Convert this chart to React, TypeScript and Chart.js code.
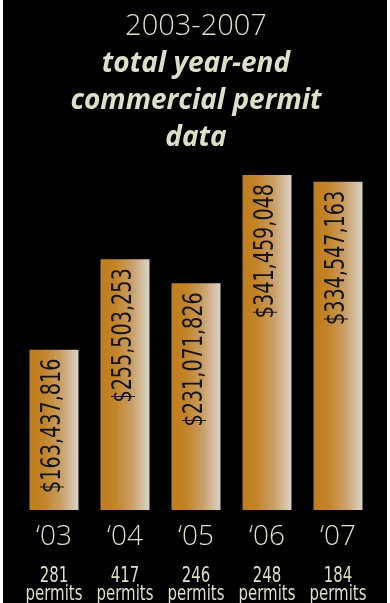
import React, { useEffect, useRef } from "react";
import { Chart, registerables } from "chart.js";

Chart.register(...registerables);

const years = ["‘03", "‘04", "‘05", "‘06", "‘07"];
const values = [163437816, 255503253, 231071826, 341459048, 334547163];
const permits = [281, 417, 246, 248, 184];
const permitWord = "permits";
const titleLine = "2003-2007";
const subtitleLines = ["total year-end", "commercial permit", "data"];

const CREAM = "#dfdfc8";
const NARROW = "'Liberation Sans Narrow', 'DejaVu Sans Condensed', sans-serif";
const SQUEEZE = 0.79;
const BAR_PCT = 0.69;

const narrowText = {
  id: "narrowText",
  afterDatasetsDraw(chart: any) {
    const ctx = chart.ctx;
    const meta = chart.getDatasetMeta(0);
    ctx.save();
    ctx.fillStyle = "#141414";
    ctx.font = `27px ${NARROW}`;
    ctx.textAlign = "right";
    ctx.textBaseline = "middle";
    meta.data.forEach((el: any, i: number) => {
      const { x, y } = el.getProps(["x", "y"], true);
      const txt = "$" + values[i].toLocaleString("en-US");
      ctx.save();
      ctx.translate(x - 1, y + 9);
      ctx.rotate(-Math.PI / 2);
      ctx.scale(SQUEEZE, 1);
      ctx.fillText(txt, 0, 0);
      ctx.restore();
    });
    ctx.restore();
  },
  afterDraw(chart: any) {
    const ctx = chart.ctx;
    const xs = chart.scales.x;
    const base = chart.chartArea.bottom;
    ctx.save();
    ctx.fillStyle = CREAM;
    ctx.font = `21px ${NARROW}`;
    ctx.textAlign = "center";
    ctx.textBaseline = "alphabetic";
    permits.forEach((p, i) => {
      const x = xs.getPixelForValue(i);
      ctx.save();
      ctx.translate(x, 0);
      ctx.scale(SQUEEZE, 1);
      ctx.fillText(String(p), 0, base + 72);
      ctx.fillText(permitWord, 0, base + 90);
      ctx.restore();
    });
    ctx.restore();
  },
};

export default function App() {
  const ref = useRef<HTMLCanvasElement>(null);
  useEffect(() => {
    if (!ref.current) return;
    const chart = new Chart(ref.current, {
      type: "bar",
      data: {
        labels: years,
        datasets: [
          {
            data: values,
            barPercentage: BAR_PCT,
            categoryPercentage: 1,
            borderWidth: 0,
            backgroundColor: (c: any) => {
              const ch = c.chart;
              const xs = ch.scales?.x;
              if (!xs || c.dataIndex === undefined) return "#c0801f";
              const cx = xs.getPixelForValue(c.dataIndex);
              const w = (xs.width / years.length) * BAR_PCT;
              if (!isFinite(cx) || !isFinite(w) || w <= 0) return "#c0801f";
              const g = ch.ctx.createLinearGradient(cx - w / 2, 0, cx + w / 2, 0);
              g.addColorStop(0, "#bf7e1c");
              g.addColorStop(0.3, "#c2842a");
              g.addColorStop(0.65, "#c9a06a");
              g.addColorStop(1, "#d9d3ca");
              return g;
            },
          },
        ],
      },
      options: {
        animation: false,
        responsive: true,
        maintainAspectRatio: false,
        layout: { padding: { left: 15.5, right: 13.5, top: 0, bottom: 39.4 } },
        plugins: {
          legend: { display: false },
          tooltip: { enabled: false },
          title: {
            display: true,
            text: titleLine,
            color: CREAM,
            font: { family: "'Open Sans', sans-serif", size: 29, weight: "300" as any },
            padding: { top: 9, bottom: 2 },
          },
          subtitle: {
            display: true,
            text: subtitleLines,
            color: CREAM,
            font: {
              family: "'Open Sans', sans-serif",
              size: 28,
              weight: "bold",
              style: "italic",
              lineHeight: 37 / 28,
            },
            padding: { top: 0, bottom: 0 },
          },
        },
        scales: {
          y: { display: false, min: 0, max: 360000000 },
          x: {
            position: "bottom",
            grid: { display: false, drawTicks: false },
            border: { display: false },
            ticks: {
              color: CREAM,
              padding: 10,
              maxRotation: 0,
              minRotation: 0,
              autoSkip: false,
              font: { family: "'Open Sans', sans-serif", size: 28, weight: "300" as any },
            },
          },
        },
      },
      plugins: [narrowText],
    });
    return () => chart.destroy();
  }, []);

  return (
    <div
      style={{
        position: "fixed",
        left: 0,
        top: 0,
        width: 390,
        height: 603,
        background: "#ffffff",
      }}
    >
      <div
        style={{
          position: "absolute",
          left: 3,
          top: 0,
          width: 384,
          height: 603,
          background: "#000000",
        }}
      >
        <canvas ref={ref} />
      </div>
    </div>
  );
}
